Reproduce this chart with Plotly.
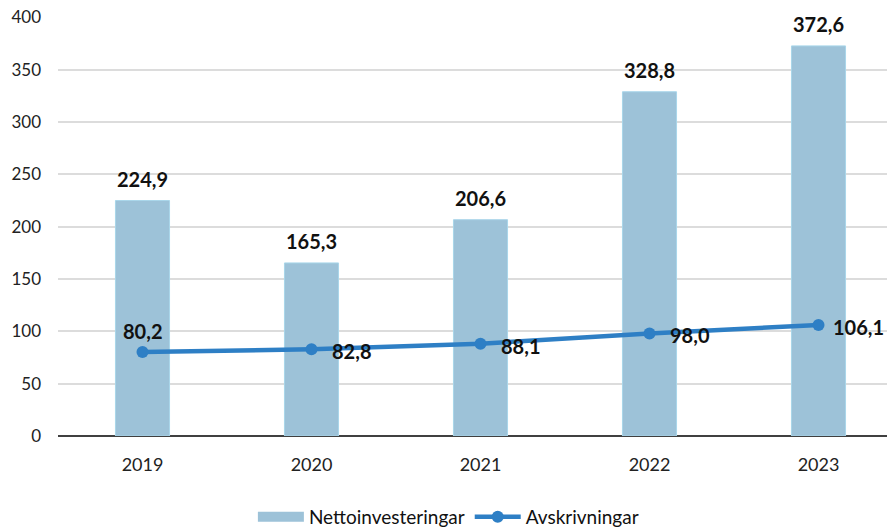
import plotly.graph_objects as go

years = ["2019", "2020", "2021", "2022", "2023"]
netto = [224.9, 165.3, 206.6, 328.8, 372.6]
avskr = [80.2, 82.8, 88.1, 98.0, 106.1]
y_ticks = [0, 50, 100, 150, 200, 250, 300, 350, 400]

def fmt(v):
    return f"{v:.1f}".replace(".", ",")

FONT = "Lato"
BAR_COLOR = "#9dc2d8"
LINE_COLOR = "#2e7fc5"

fig = go.Figure()
fig.add_trace(go.Bar(
    x=years, y=netto, name="Nettoinvesteringar", showlegend=False,
    marker=dict(color=BAR_COLOR, line=dict(color="#a9d6ea", width=1)),
    width=0.32,
))
# legend-only entry drawn as a wide swatch, like the original
fig.add_trace(go.Scatter(
    x=[None], y=[None], name="Nettoinvesteringar", mode="lines",
    line=dict(color=BAR_COLOR, width=12),
))
fig.add_trace(go.Scatter(
    x=years, y=avskr, name="Avskrivningar", mode="lines+markers",
    line=dict(color=LINE_COLOR, width=4.5),
    marker=dict(color=LINE_COLOR, size=12),
))

lab_font = dict(family=FONT, size=20, color="#111111")
for i, (yr, v) in enumerate(zip(years, netto)):
    fig.add_annotation(x=i, y=v, xref="x", yref="y", text="<b>" + fmt(v) + "</b>",
                       showarrow=False, yshift=22, font=lab_font)
for i, (yr, v) in enumerate(zip(years, avskr)):
    if i == 0:
        fig.add_annotation(x=i, y=v, xref="x", yref="y", text="<b>" + fmt(v) + "</b>",
                           showarrow=False, yshift=21, font=lab_font)
    else:
        fig.add_annotation(x=i, y=v, xref="x", yref="y", text="<b>" + fmt(v) + "</b>",
                           showarrow=False, xshift=40, yshift=-2, font=lab_font)

fig.update_layout(
    width=895, height=528,
    margin=dict(l=50, r=0, t=9, b=100, autoexpand=False),
    plot_bgcolor="white", paper_bgcolor="white",
    font=dict(family=FONT, size=18, color="#222222"),
    showlegend=True,
    legend=dict(orientation="h", x=0.462, xanchor="center", y=-0.193, yanchor="middle",
                font=dict(family=FONT, size=19, color="#111111"), itemwidth=46),
    bargap=0.68,
)
fig.update_xaxes(type="category", range=[-0.5, 4.5], showgrid=False, showline=False, ticks="",
                 automargin=False, ticklabelstandoff=16,
                 tickfont=dict(family=FONT, size=18, color="#222222"))
fig.update_yaxes(range=[0, 400.2], tickvals=y_ticks, showgrid=True, gridcolor="#dcdcdc", gridwidth=1.5,
                 zeroline=True, zerolinecolor="#404040", zerolinewidth=2,
                 showline=False, ticks="", ticklabelstandoff=16, automargin=False,
                 ticklabeloverflow="allow",
                 tickfont=dict(family=FONT, size=17, color="#222222"))

fig.write_html("out.html")
